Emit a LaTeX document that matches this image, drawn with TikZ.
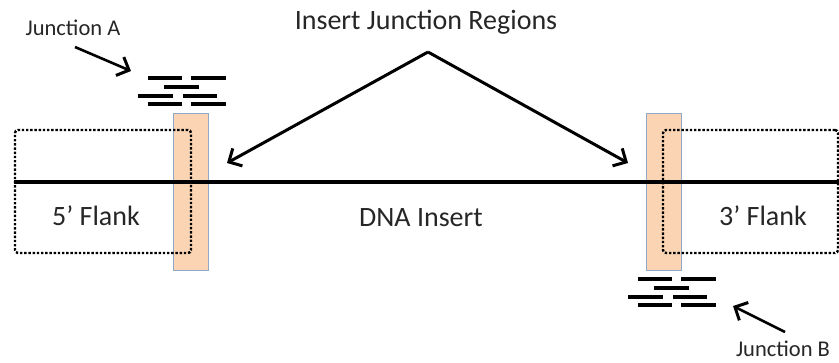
\documentclass[tikz,border=0pt]{standalone}
\usepackage{fontspec}
\setmainfont{Carlito}
\usetikzlibrary{arrows.meta, positioning}
\definecolor{peach}{HTML}{FBD4B4}
\definecolor{barline}{HTML}{8EA9C9}
\definecolor{ink}{HTML}{262626}

\begin{document}
\begin{tikzpicture}[x=1pt, y=-1pt,
    bar/.style={draw=barline, fill=peach, line width=0.8pt, minimum width=35pt, minimum height=157pt, inner sep=0pt},
    flank/.style={draw, dash pattern=on 2.4pt off 1.8pt, line width=2.4pt, rounded corners=3pt, minimum width=176pt, minimum height=123pt, inner sep=0pt},
    label/.style={text=ink, font=\fontsize{28}{30}\selectfont},
    small/.style={text=ink, font=\fontsize{22.5}{24}\selectfont},
    pointer/.style={line width=3pt, -{Straight Barb[length=10pt, width=20pt, line width=3pt]}},
    read/.style={line width=3.2pt}]
  \useasboundingbox (0,0) rectangle (839,362);

  \node[bar] (barA) at (190.5,191.5) {};
  \node[bar] (barB) at (664,191.5) {};
  \draw[line width=3.4pt] (14,182) -- (839,182);
  \node[flank] (left)  at (103,191.5) {};
  \node[flank, minimum width=175pt] (right) at (750.5,191.5) {};

  \node[label] (five)   at (96,216)  {5’ Flank};
  \node[label] (three)  at (763,216) {3’ Flank};
  \node[label] (insert) at (421,218) {DNA Insert};
  \node[label] (title)  at (426,22)  {Insert Junction Regions};

  \coordinate (apex) at (428,52);
  \coordinate (tipA) at (227,163);
  \coordinate (tipB) at (628,163);
  \draw[pointer] (apex) -- (tipA);
  \draw[pointer] (apex) -- (tipB);

  \node[small] (juncA) at (73,28)  {Junction A};
  \node[small] (juncB) at (783,349) {Junction B};
  \coordinate (fromA) at (75,47);
  \coordinate (toA)   at (131,71);
  \coordinate (fromB) at (785,332);
  \coordinate (toB)   at (733,306);
  \draw[pointer, line width=2.6pt] (fromA) -- (toA);
  \draw[pointer, line width=2.6pt] (fromB) -- (toB);

  % short reads piled over each junction
  \foreach \dx/\dy in {0/0, 490/201} {
    \draw[read] (148+\dx,78+\dy) -- ++(34,0) (191+\dx,78+\dy) -- ++(35,0);
    \draw[read] (164+\dx,87+\dy) -- ++(35,0);
    \draw[read] (138+\dx,96+\dy) -- ++(35,0) (183+\dx,96+\dy) -- ++(34,0);
    \draw[read] (148+\dx,104+\dy) -- ++(34,0) (191+\dx,104+\dy) -- ++(35,0);
  }
\end{tikzpicture}
\end{document}
